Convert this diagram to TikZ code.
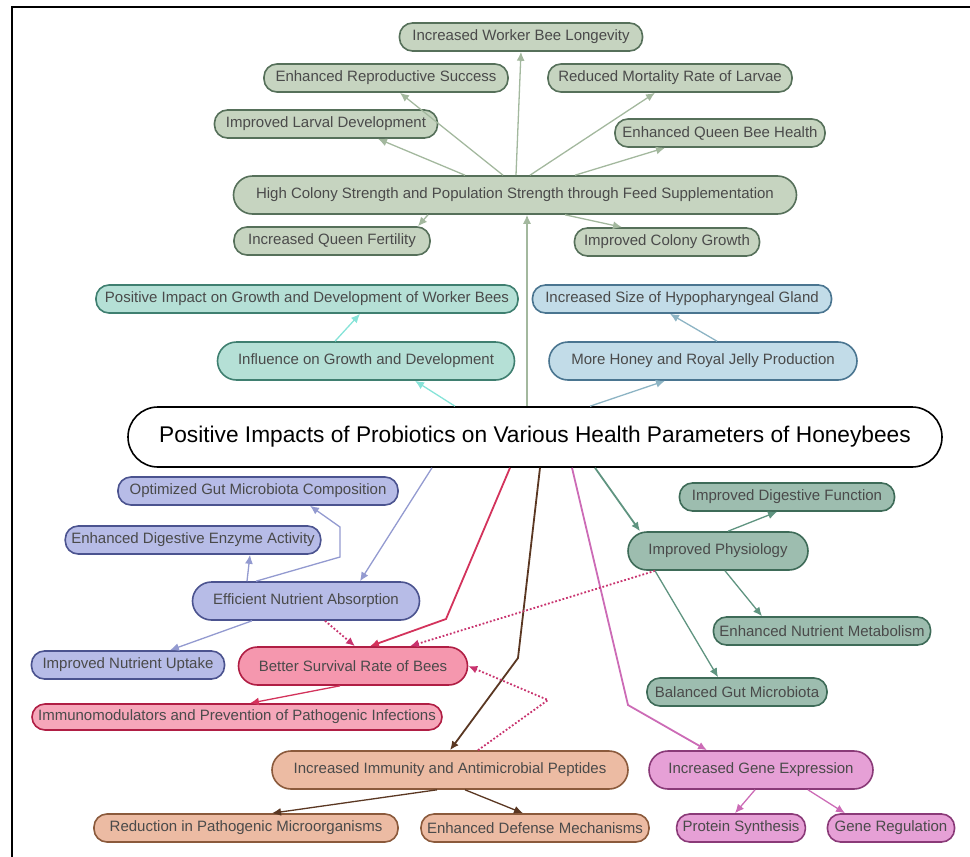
\documentclass[tikz,border=0pt]{standalone}
\usepackage{fontspec}
\setmainfont{Liberation Sans}
\usetikzlibrary{arrows.meta}

\definecolor{sagefill}{HTML}{C6D4C0}
\definecolor{sagedraw}{HTML}{56705A}
\definecolor{sageline}{HTML}{A3B89E}
\definecolor{tealfill}{HTML}{B5E0D6}
\definecolor{tealdraw}{HTML}{3F7F70}
\definecolor{tealline}{HTML}{86E3D8}
\definecolor{bluefill}{HTML}{C2DCE8}
\definecolor{bluedraw}{HTML}{4A7590}
\definecolor{blueline}{HTML}{8DB4C4}
\definecolor{lavfill}{HTML}{B7BCE7}
\definecolor{lavdraw}{HTML}{4B538F}
\definecolor{lavline}{HTML}{939AD0}
\definecolor{pinkfill}{HTML}{F597AE}
\definecolor{pinkdraw}{HTML}{B01E44}
\definecolor{pinkline}{HTML}{D3335C}
\definecolor{dotline}{HTML}{C8336E}
\definecolor{brownfill}{HTML}{ECBBA3}
\definecolor{browndraw}{HTML}{8B5A3C}
\definecolor{brownline}{HTML}{5A3722}
\definecolor{physfill}{HTML}{9DBDAF}
\definecolor{physdraw}{HTML}{3E6B58}
\definecolor{physline}{HTML}{5F9480}
\definecolor{magfill}{HTML}{E6A0D6}
\definecolor{magdraw}{HTML}{8A3A78}
\definecolor{magline}{HTML}{CC6BB6}
\definecolor{textgray}{HTML}{4A4A4A}

\tikzset{
    leaf/.style={draw, line width=1.6pt, rounded corners=13pt, minimum height=28pt,
        inner xsep=6pt, inner ysep=0pt, text=textgray, font=\fontsize{15}{17}\selectfont},
    hub/.style={leaf, rounded corners=19pt, minimum height=38pt},
    link/.style={->, line width=1.3pt},
    dotlink/.style={->, line width=1.8pt, dotted, dotline}
}

\begin{document}
\begin{tikzpicture}[x=1pt, y=-1pt, >={Latex[length=9pt,width=8pt]}]
    \useasboundingbox (0,0) rectangle (970,857);
    \draw[line width=2pt] (12,857) -- (12,7) -- (970,7);

    % root
    \node[draw, line width=1.6pt, fill=white, rounded corners=30pt, minimum width=814pt,
        minimum height=60pt, font=\fontsize{22.7}{27}\selectfont] (root) at (535,437)
        {Positive Impacts of Probiotics on Various Health Parameters of Honeybees};

    % colony strength
    \node[hub, fill=sagefill, draw=sagedraw, minimum width=563pt] (colony) at (515,195)
        {High Colony Strength and Population Strength through Feed Supplementation};
    \node[leaf, fill=sagefill, draw=sagedraw, minimum width=243pt] (longevity) at (521,37) {Increased Worker Bee Longevity};
    \node[leaf, fill=sagefill, draw=sagedraw, minimum width=244pt] (repro) at (386,78) {Enhanced Reproductive Success};
    \node[leaf, fill=sagefill, draw=sagedraw, minimum width=244pt] (mortality) at (670,78) {Reduced Mortality Rate of Larvae};
    \node[leaf, fill=sagefill, draw=sagedraw, minimum width=223pt] (larval) at (326,124) {Improved Larval Development};
    \node[leaf, fill=sagefill, draw=sagedraw, minimum width=210pt] (queen) at (720,133) {Enhanced Queen Bee Health};
    \node[leaf, fill=sagefill, draw=sagedraw, minimum width=196pt] (fertility) at (332,241) {Increased Queen Fertility};
    \node[leaf, fill=sagefill, draw=sagedraw, minimum width=185pt] (growth) at (667,242) {Improved Colony Growth};

    % growth and honey
    \node[hub, fill=tealfill, draw=tealdraw, minimum width=297pt] (influence) at (366,361) {Influence on Growth and Development};
    \node[leaf, fill=tealfill, draw=tealdraw, minimum width=422pt] (worker) at (307,299) {Positive Impact on Growth and Development of Worker Bees};
    \node[hub, fill=bluefill, draw=bluedraw, minimum width=308pt] (honey) at (703,361) {More Honey and Royal Jelly Production};
    \node[leaf, fill=bluefill, draw=bluedraw, minimum width=299pt] (hypo) at (682,299) {Increased Size of Hypopharyngeal Gland};

    % nutrient absorption
    \node[hub, fill=lavfill, draw=lavdraw, minimum width=227pt] (absorb) at (306,601) {Efficient Nutrient Absorption};
    \node[leaf, fill=lavfill, draw=lavdraw, minimum width=280pt] (optim) at (258,491) {Optimized Gut Microbiota Composition};
    \node[leaf, fill=lavfill, draw=lavdraw, minimum width=253pt] (enzyme) at (193,540) {Enhanced Digestive Enzyme Activity};
    \node[leaf, fill=lavfill, draw=lavdraw, minimum width=193pt] (uptake) at (128,665) {Improved Nutrient Uptake};

    % survival
    \node[hub, fill=pinkfill, draw=pinkdraw, minimum width=229pt] (survival) at (353,666) {Better Survival Rate of Bees};
    \node[leaf, fill=pinkfill!85!white, draw=pinkdraw, minimum width=410pt, minimum height=26pt] (immuno) at (237,717)
        {Immunomodulators and Prevention of Pathogenic Infections};

    % immunity
    \node[hub, fill=brownfill, draw=browndraw, minimum width=356pt] (immunity) at (450,770) {Increased Immunity and Antimicrobial Peptides};
    \node[leaf, fill=brownfill, draw=browndraw, minimum width=304pt] (reduction) at (246,828) {Reduction in Pathogenic Microorganisms};
    \node[leaf, fill=brownfill, draw=browndraw, minimum width=226pt] (defense) at (535,828) {Enhanced Defense Mechanisms};

    % physiology
    \node[hub, fill=physfill, draw=physdraw, minimum width=180pt] (physio) at (718,551) {Improved Physiology};
    \node[leaf, fill=physfill, draw=physdraw, minimum width=215pt] (digest) at (787,497) {Improved Digestive Function};
    \node[leaf, fill=physfill, draw=physdraw, minimum width=217pt] (metab) at (822,631) {Enhanced Nutrient Metabolism};
    \node[leaf, fill=physfill, draw=physdraw, minimum width=180pt] (balanced) at (737,692) {Balanced Gut Microbiota};

    % gene expression
    \node[hub, fill=magfill, draw=magdraw, minimum width=224pt] (gene) at (761,770) {Increased Gene Expression};
    \node[leaf, fill=magfill, draw=magdraw, minimum width=127pt] (protein) at (741,828) {Protein Synthesis};
    \node[leaf, fill=magfill, draw=magdraw, minimum width=127pt] (genereg) at (891,828) {Gene Regulation};

    % connectors from root
    \draw[link, sageline] ([xshift=-8pt]root.north) -- ([xshift=12pt]colony.south);
    \draw[link, tealline] ([xshift=-80pt]root.north) -- ([xshift=49pt]influence.south);
    \draw[link, blueline] ([xshift=55pt]root.north) -- ([xshift=-38pt]honey.south);
    \draw[link, lavline] ([xshift=-103pt]root.south) -- ([xshift=54pt]absorb.north);
    \draw[link, pinkline, line width=1.8pt] ([xshift=-25pt]root.south) -- (446,619) -- ([xshift=17pt]survival.north);
    \draw[link, brownline, line width=1.8pt] ([xshift=5pt]root.south) -- (518,658) -- (immunity.north);
    \draw[link, magline, line width=1.8pt] ([xshift=37pt]root.south) -- (628,705) -- ([xshift=-54pt]gene.north);
    \draw[link, physline, line width=1.8pt] ([xshift=60pt]root.south) -- ([xshift=-78pt]physio.north);

    % colony strength
    \draw[link, sageline] ([xshift=1pt]colony.north) -- (longevity.south);
    \draw[link, sageline] ([xshift=-12pt]colony.north) -- ([xshift=14pt]repro.south);
    \draw[link, sageline] ([xshift=-50pt]colony.north) -- ([xshift=52pt]larval.south);
    \draw[link, sageline] ([xshift=15pt]colony.north) -- ([xshift=-15pt]mortality.south);
    \draw[link, sageline] ([xshift=60pt]colony.north) -- ([xshift=-55pt]queen.south);
    \draw[link, sageline] ([xshift=-87pt]colony.south) -- ([xshift=86pt]fertility.north);
    \draw[link, sageline] ([xshift=50pt]colony.south) -- ([xshift=-45pt]growth.north);

    \draw[link, tealline] ([xshift=-31pt]influence.north) -- ([xshift=53pt]worker.south);
    \draw[link, blueline] ([xshift=14pt]honey.north) -- ([xshift=-12pt]hypo.south);

    % nutrient absorption
    \draw[link, lavline] ([xshift=-59pt]absorb.north) -- ([xshift=57pt]enzyme.south);
    \draw[link, lavline] ([xshift=-50pt]absorb.north) -- (340,557) -- (340,527) -- ([xshift=52pt]optim.south);
    \draw[link, lavline] ([xshift=-54pt]absorb.south) -- ([xshift=42pt]uptake.north);

    % survival
    \draw[dotlink] ([xshift=19pt]absorb.south) -- ([xshift=2pt]survival.north);
    \draw[dotlink] ([xshift=-63pt]physio.south) -- ([xshift=57pt]survival.north);
    \draw[dotlink] ([xshift=28pt]immunity.north) -- (548,700) -- (survival.east);
    \draw[link, pinkline] ([xshift=-13pt]survival.south) -- ([xshift=13pt]immuno.north);

    % immunity
    \draw[link, brownline] ([xshift=-13pt]immunity.south) -- ([xshift=26pt]reduction.north);
    \draw[link, brownline] ([xshift=15pt]immunity.south) -- ([xshift=-12pt]defense.north);

    % physiology
    \draw[link, physline] ([xshift=10pt]physio.north) -- ([xshift=-10pt]digest.south);
    \draw[link, physline] ([xshift=7pt]physio.south) -- ([xshift=-60pt]metab.north);
    \draw[link, physline] ([xshift=-63pt]physio.south) -- ([xshift=-19pt]balanced.north);

    % gene expression
    \draw[link, magline] ([xshift=-6pt]gene.south) -- ([xshift=-6pt]protein.north);
    \draw[link, magline] ([xshift=47pt]gene.south) -- ([xshift=-46pt]genereg.north);
\end{tikzpicture}
\end{document}
